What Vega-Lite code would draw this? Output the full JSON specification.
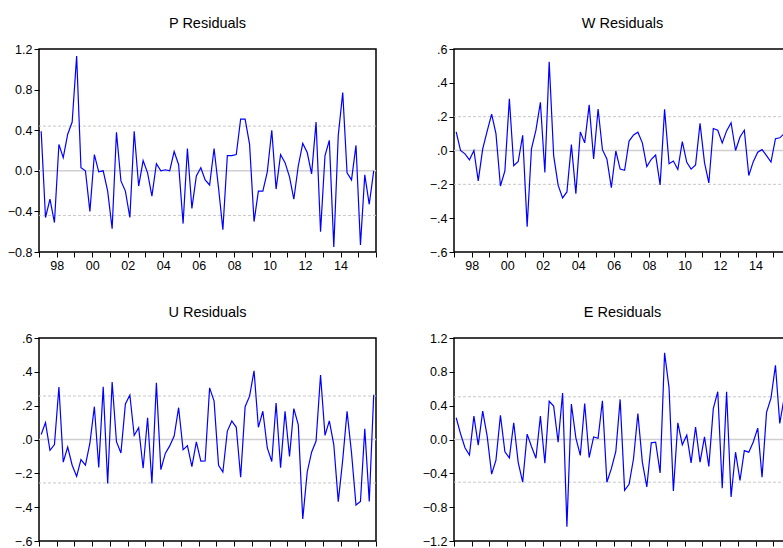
{
  "$schema": "https://vega.github.io/schema/vega-lite/v6.json",
  "autosize": {"type": "pad"},
  "padding": {"left": 6, "top": 14, "right": 0, "bottom": 0},
  "background": "white",
  "datasets": {
    "res": [
      {"d":"1997-02-15","P":0.39,"W":0.11,"U":0.03,"E":0.257},
      {"d":"1997-05-15","P":-0.46,"W":0.0,"U":0.10,"E":0.07},
      {"d":"1997-08-15","P":-0.28,"W":-0.02,"U":-0.064,"E":-0.098},
      {"d":"1997-11-15","P":-0.51,"W":-0.055,"U":-0.03,"E":-0.183},
      {"d":"1998-02-15","P":0.26,"W":0.0,"U":0.31,"E":0.276},
      {"d":"1998-05-15","P":0.13,"W":-0.18,"U":-0.134,"E":-0.067},
      {"d":"1998-08-15","P":0.36,"W":0.01,"U":-0.045,"E":0.336},
      {"d":"1998-11-15","P":0.48,"W":0.115,"U":-0.152,"E":0.04},
      {"d":"1999-02-15","P":1.13,"W":0.215,"U":-0.218,"E":-0.41},
      {"d":"1999-05-15","P":0.03,"W":0.10,"U":-0.119,"E":-0.243},
      {"d":"1999-08-15","P":0.0,"W":-0.21,"U":-0.151,"E":0.287},
      {"d":"1999-11-15","P":-0.40,"W":-0.12,"U":-0.022,"E":-0.146},
      {"d":"2000-02-15","P":0.16,"W":0.305,"U":0.194,"E":-0.218},
      {"d":"2000-05-15","P":-0.01,"W":-0.09,"U":-0.166,"E":0.198},
      {"d":"2000-08-15","P":0.0,"W":-0.065,"U":0.311,"E":-0.27},
      {"d":"2000-11-15","P":-0.20,"W":0.09,"U":-0.26,"E":-0.505},
      {"d":"2001-02-15","P":-0.57,"W":-0.45,"U":0.34,"E":0.063},
      {"d":"2001-05-15","P":0.38,"W":0.01,"U":-0.013,"E":-0.083},
      {"d":"2001-08-15","P":-0.10,"W":0.12,"U":-0.08,"E":-0.222},
      {"d":"2001-11-15","P":-0.20,"W":0.285,"U":0.21,"E":0.276},
      {"d":"2002-02-15","P":-0.46,"W":-0.13,"U":0.263,"E":-0.28},
      {"d":"2002-05-15","P":0.39,"W":0.525,"U":0.024,"E":0.452},
      {"d":"2002-08-15","P":-0.15,"W":-0.03,"U":0.07,"E":0.395},
      {"d":"2002-11-15","P":0.10,"W":-0.205,"U":-0.17,"E":-0.033},
      {"d":"2003-02-15","P":-0.02,"W":-0.28,"U":0.129,"E":0.55},
      {"d":"2003-05-15","P":-0.25,"W":-0.245,"U":-0.26,"E":-1.03},
      {"d":"2003-08-15","P":0.07,"W":0.035,"U":0.335,"E":0.42},
      {"d":"2003-11-15","P":0.0,"W":-0.255,"U":-0.178,"E":0.02},
      {"d":"2004-02-15","P":0.01,"W":0.11,"U":-0.082,"E":-0.188},
      {"d":"2004-05-15","P":0.0,"W":0.045,"U":-0.038,"E":0.426},
      {"d":"2004-08-15","P":0.19,"W":0.27,"U":0.02,"E":-0.213},
      {"d":"2004-11-15","P":0.06,"W":-0.05,"U":0.188,"E":0.03},
      {"d":"2005-02-15","P":-0.52,"W":0.245,"U":-0.061,"E":0.014},
      {"d":"2005-05-15","P":0.22,"W":0.005,"U":-0.036,"E":0.458},
      {"d":"2005-08-15","P":-0.37,"W":-0.05,"U":-0.16,"E":-0.505},
      {"d":"2005-11-15","P":-0.05,"W":-0.22,"U":-0.014,"E":-0.345},
      {"d":"2006-02-15","P":0.03,"W":-0.003,"U":-0.128,"E":-0.142},
      {"d":"2006-05-15","P":-0.09,"W":-0.11,"U":-0.127,"E":0.474},
      {"d":"2006-08-15","P":-0.14,"W":-0.117,"U":0.305,"E":-0.60},
      {"d":"2006-11-15","P":0.22,"W":0.056,"U":0.227,"E":-0.53},
      {"d":"2007-02-15","P":-0.17,"W":0.092,"U":-0.152,"E":-0.225},
      {"d":"2007-05-15","P":-0.58,"W":0.108,"U":-0.192,"E":0.308},
      {"d":"2007-08-15","P":0.15,"W":0.045,"U":0.05,"E":-0.268},
      {"d":"2007-11-15","P":0.15,"W":-0.095,"U":0.11,"E":-0.56},
      {"d":"2008-02-15","P":0.16,"W":-0.052,"U":0.072,"E":-0.04},
      {"d":"2008-05-15","P":0.51,"W":-0.027,"U":-0.223,"E":-0.032},
      {"d":"2008-08-15","P":0.51,"W":-0.203,"U":0.194,"E":-0.395},
      {"d":"2008-11-15","P":0.26,"W":0.243,"U":0.256,"E":1.026},
      {"d":"2009-02-15","P":-0.50,"W":-0.078,"U":0.406,"E":0.61},
      {"d":"2009-05-15","P":-0.20,"W":-0.062,"U":0.072,"E":-0.608},
      {"d":"2009-08-15","P":-0.20,"W":-0.112,"U":0.167,"E":0.197},
      {"d":"2009-11-15","P":-0.01,"W":0.052,"U":-0.05,"E":-0.063},
      {"d":"2010-02-15","P":0.40,"W":-0.07,"U":-0.13,"E":0.052},
      {"d":"2010-05-15","P":-0.18,"W":-0.11,"U":0.216,"E":-0.276},
      {"d":"2010-08-15","P":0.16,"W":-0.085,"U":-0.167,"E":0.148},
      {"d":"2010-11-15","P":0.08,"W":0.16,"U":0.166,"E":-0.268},
      {"d":"2011-02-15","P":-0.06,"W":-0.072,"U":-0.10,"E":0.03},
      {"d":"2011-05-15","P":-0.28,"W":-0.192,"U":0.183,"E":-0.318},
      {"d":"2011-08-15","P":0.05,"W":0.13,"U":0.086,"E":0.365},
      {"d":"2011-11-15","P":0.27,"W":0.12,"U":-0.47,"E":0.565},
      {"d":"2012-02-15","P":0.18,"W":0.045,"U":-0.192,"E":-0.576},
      {"d":"2012-05-15","P":-0.03,"W":0.116,"U":-0.075,"E":0.565},
      {"d":"2012-08-15","P":0.48,"W":0.164,"U":-0.009,"E":-0.68},
      {"d":"2012-11-15","P":-0.60,"W":0.0,"U":0.381,"E":-0.15},
      {"d":"2013-02-15","P":0.15,"W":0.08,"U":0.024,"E":-0.485},
      {"d":"2013-05-15","P":0.30,"W":0.12,"U":0.11,"E":-0.132},
      {"d":"2013-08-15","P":-0.75,"W":-0.148,"U":-0.03,"E":-0.15},
      {"d":"2013-11-15","P":0.35,"W":-0.066,"U":-0.367,"E":-0.03},
      {"d":"2014-02-15","P":0.77,"W":-0.01,"U":-0.12,"E":0.134},
      {"d":"2014-05-15","P":-0.02,"W":0.005,"U":0.166,"E":-0.446},
      {"d":"2014-08-15","P":-0.09,"W":-0.03,"U":-0.08,"E":0.32},
      {"d":"2014-11-15","P":0.25,"W":-0.068,"U":-0.387,"E":0.49},
      {"d":"2015-02-15","P":-0.73,"W":0.07,"U":-0.366,"E":0.876},
      {"d":"2015-05-15","P":-0.04,"W":0.075,"U":0.063,"E":0.19},
      {"d":"2015-08-15","P":-0.33,"W":0.10,"U":-0.367,"E":0.50},
      {"d":"2015-11-15","P":0.0,"W":0.09,"U":0.265,"E":0.30}
    ]
  },
  "vconcat": [
    {
      "hconcat": [
        {
          "width": 337, "height": 203,
          "title": {"text": "P Residuals"},
          "layer": [
            {"data": {"values": [{"y": 0}]}, "mark": {"type": "rule", "color": "#cfcfcf", "strokeWidth": 1.5}, "encoding": {"y": {"field": "y", "type": "quantitative", "scale": {"domain": [-0.8, 1.2], "nice": false, "zero": false}, "axis": {"values": [-0.8, -0.4, 0, 0.4, 0.8, 1.2], "format": ".1f"}}}},
            {"data": {"values": [{"y": 0.44}, {"y": -0.44}]}, "mark": {"type": "rule", "color": "#c8c8c8", "strokeWidth": 1, "strokeDash": [3, 2]}, "encoding": {"y": {"field": "y", "type": "quantitative", "scale": {"domain": [-0.8, 1.2], "nice": false, "zero": false}, "axis": {"values": [-0.8, -0.4, 0, 0.4, 0.8, 1.2], "format": ".1f"}}}},
            {"data": {"name": "res"}, "mark": {"type": "line", "color": "#0000ff", "strokeWidth": 1.2},
             "encoding": {
               "x": {"field": "d", "type": "temporal", "scale": {"type": "utc", "domain": ["1997-01-01", "2016-01-01"]}, "axis": {"tickCount": {"interval": "year", "step": 1}, "labelExpr": "utcyear(datum.value) % 2 == 0 && utcyear(datum.value) < 2016 ? utcFormat(datum.value, '%y') : ''", "labelDx": 9}},
               "y": {"field": "P", "type": "quantitative", "scale": {"domain": [-0.8, 1.2], "nice": false, "zero": false}, "axis": {"values": [-0.8, -0.4, 0, 0.4, 0.8, 1.2], "format": ".1f"}}
             }}
          ]
        },
        {
          "width": 337, "height": 203,
          "title": {"text": "W Residuals"},
          "layer": [
            {"data": {"values": [{"y": 0}]}, "mark": {"type": "rule", "color": "#cfcfcf", "strokeWidth": 1.5}, "encoding": {"y": {"field": "y", "type": "quantitative", "scale": {"domain": [-0.6, 0.6], "nice": false, "zero": false}, "axis": {"values": [-0.6, -0.4, -0.2, 0, 0.2, 0.4, 0.6], "labelExpr": "replace(format(datum.value, '.1f'), '0.', '.')"}}}},
            {"data": {"values": [{"y": 0.2}, {"y": -0.2}]}, "mark": {"type": "rule", "color": "#c8c8c8", "strokeWidth": 1, "strokeDash": [3, 2]}, "encoding": {"y": {"field": "y", "type": "quantitative", "scale": {"domain": [-0.6, 0.6], "nice": false, "zero": false}, "axis": {"values": [-0.6, -0.4, -0.2, 0, 0.2, 0.4, 0.6], "labelExpr": "replace(format(datum.value, '.1f'), '0.', '.')"}}}},
            {"data": {"name": "res"}, "mark": {"type": "line", "color": "#0000ff", "strokeWidth": 1.2},
             "encoding": {
               "x": {"field": "d", "type": "temporal", "scale": {"type": "utc", "domain": ["1997-01-01", "2016-01-01"]}, "axis": {"tickCount": {"interval": "year", "step": 1}, "labelExpr": "utcyear(datum.value) % 2 == 0 && utcyear(datum.value) < 2016 ? utcFormat(datum.value, '%y') : ''", "labelDx": 9}},
               "y": {"field": "W", "type": "quantitative", "scale": {"domain": [-0.6, 0.6], "nice": false, "zero": false}, "axis": {"values": [-0.6, -0.4, -0.2, 0, 0.2, 0.4, 0.6], "labelExpr": "replace(format(datum.value, '.1f'), '0.', '.')"}}
             }}
          ]
        }
      ],
      "spacing": 78,
      "bounds": "flush"
    },
    {
      "hconcat": [
        {
          "width": 337, "height": 203,
          "title": {"text": "U Residuals"},
          "layer": [
            {"data": {"values": [{"y": 0}]}, "mark": {"type": "rule", "color": "#cfcfcf", "strokeWidth": 1.5}, "encoding": {"y": {"field": "y", "type": "quantitative", "scale": {"domain": [-0.6, 0.6], "nice": false, "zero": false}, "axis": {"values": [-0.6, -0.4, -0.2, 0, 0.2, 0.4, 0.6], "labelExpr": "replace(format(datum.value, '.1f'), '0.', '.')"}}}},
            {"data": {"values": [{"y": 0.257}, {"y": -0.257}]}, "mark": {"type": "rule", "color": "#c8c8c8", "strokeWidth": 1, "strokeDash": [3, 2]}, "encoding": {"y": {"field": "y", "type": "quantitative", "scale": {"domain": [-0.6, 0.6], "nice": false, "zero": false}, "axis": {"values": [-0.6, -0.4, -0.2, 0, 0.2, 0.4, 0.6], "labelExpr": "replace(format(datum.value, '.1f'), '0.', '.')"}}}},
            {"data": {"name": "res"}, "mark": {"type": "line", "color": "#0000ff", "strokeWidth": 1.2},
             "encoding": {
               "x": {"field": "d", "type": "temporal", "scale": {"type": "utc", "domain": ["1997-01-01", "2016-01-01"]}, "axis": {"tickCount": {"interval": "year", "step": 1}, "labelExpr": "utcyear(datum.value) % 2 == 0 && utcyear(datum.value) < 2016 ? utcFormat(datum.value, '%y') : ''", "labelDx": 9}},
               "y": {"field": "U", "type": "quantitative", "scale": {"domain": [-0.6, 0.6], "nice": false, "zero": false}, "axis": {"values": [-0.6, -0.4, -0.2, 0, 0.2, 0.4, 0.6], "labelExpr": "replace(format(datum.value, '.1f'), '0.', '.')"}}
             }}
          ]
        },
        {
          "width": 337, "height": 203,
          "title": {"text": "E Residuals"},
          "layer": [
            {"data": {"values": [{"y": 0}]}, "mark": {"type": "rule", "color": "#cfcfcf", "strokeWidth": 1.5}, "encoding": {"y": {"field": "y", "type": "quantitative", "scale": {"domain": [-1.2, 1.2], "nice": false, "zero": false}, "axis": {"values": [-1.2, -0.8, -0.4, 0, 0.4, 0.8, 1.2], "format": ".1f"}}}},
            {"data": {"values": [{"y": 0.505}, {"y": -0.505}]}, "mark": {"type": "rule", "color": "#c8c8c8", "strokeWidth": 1, "strokeDash": [3, 2]}, "encoding": {"y": {"field": "y", "type": "quantitative", "scale": {"domain": [-1.2, 1.2], "nice": false, "zero": false}, "axis": {"values": [-1.2, -0.8, -0.4, 0, 0.4, 0.8, 1.2], "format": ".1f"}}}},
            {"data": {"name": "res"}, "mark": {"type": "line", "color": "#0000ff", "strokeWidth": 1.2},
             "encoding": {
               "x": {"field": "d", "type": "temporal", "scale": {"type": "utc", "domain": ["1997-01-01", "2016-01-01"]}, "axis": {"tickCount": {"interval": "year", "step": 1}, "labelExpr": "utcyear(datum.value) % 2 == 0 && utcyear(datum.value) < 2016 ? utcFormat(datum.value, '%y') : ''", "labelDx": 9}},
               "y": {"field": "E", "type": "quantitative", "scale": {"domain": [-1.2, 1.2], "nice": false, "zero": false}, "axis": {"values": [-1.2, -0.8, -0.4, 0, 0.4, 0.8, 1.2], "format": ".1f"}}
             }}
          ]
        }
      ],
      "spacing": 78,
      "bounds": "flush"
    }
  ],
  "spacing": 30,
  "config": {
    "font": "Liberation Sans",
    "view": {"stroke": "#000000", "strokeWidth": 1.5},
    "title": {"font": "Liberation Sans", "fontSize": 14.5, "fontWeight": "normal", "color": "#000000", "anchor": "middle", "offset": 12},
    "axis": {
      "title": null, "grid": false, "domain": false,
      "ticks": true, "tickSize": 5, "tickColor": "#000000", "tickWidth": 1,
      "labelFont": "Liberation Sans", "labelFontSize": 12.5, "labelColor": "#000000", "labelPadding": 2,
      "labelOverlap": false, "labelFlush": false, "labelBound": false
    }
  }
}
